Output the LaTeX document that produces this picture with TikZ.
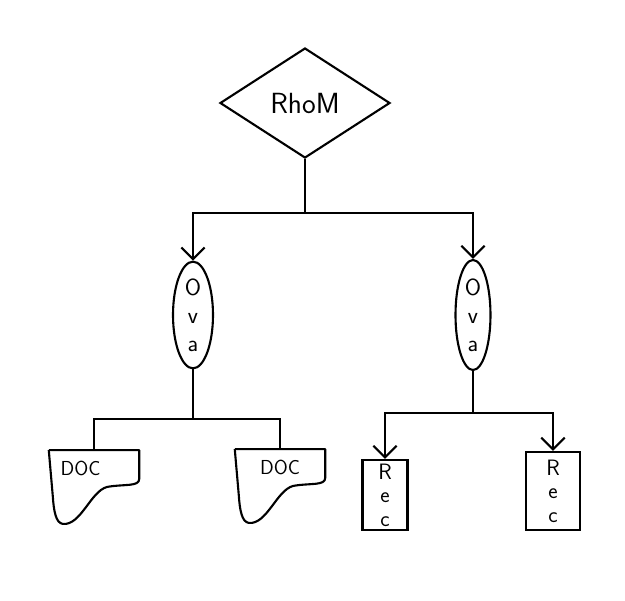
\documentclass[tikz,border=0pt]{standalone}
\usepackage{amsmath}
\usepackage{tikz}
\usetikzlibrary{shapes.geometric, arrows.meta, positioning, calc}

\begin{document}
\begin{tikzpicture}[
    % --- Global Styles ---
    base/.style={draw, line width=1.8pt, align=center, inner sep=0pt, font=\sffamily},
    rhombus/.style={base, diamond, minimum width=5.1cm, minimum height=3.3cm, font=\sffamily\Huge},
    oval/.style={base, ellipse, minimum width=1.2cm, minimum height=3.2cm, font=\sffamily\fontsize{20}{24}\selectfont},
    docbox/.style={draw=none, minimum width=2.7cm, minimum height=2.2cm},
    doctext/.style={anchor=north, yshift=-0.2cm, font=\sffamily\LARGE},
    recbox/.style={base, rectangle, minimum width=1.35cm, minimum height=2.1cm, font=\sffamily\fontsize{19}{20}\selectfont},
    outline/.style={line width=1.8pt, line join=round},
    line/.style={line width=1.8pt},
    arrow/.style={line width=1.8pt, -{Straight Barb[length=3.5mm, width=7mm]}}
]
    \useasboundingbox (0,0) rectangle (18.75,-18.03);

    % --- Nodes & Absolute Positioning ---

    \node[rhombus] (rhom) at (9.15,-3.09) {RhoM};

    \node[oval] (ovalL) at (5.79,-9.45) {O\\v\\a};
    \node[oval, minimum width=1.05cm, minimum height=3.3cm] (ovalR) at (14.19,-9.45) {O\\v\\a};

    \node[docbox, label={[doctext, xshift=-0.4cm]north:DOC}] (docL) at (2.82,-14.61) {};
    \node[docbox, label={[doctext]north:DOC}] (docR) at (8.40,-14.58) {};

    \node[recbox] (recL) at (11.55,-14.85) {R\\e\\c};
    \node[recbox, minimum width=1.6cm, minimum height=2.35cm] (recR) at (16.59,-14.73) {R\\e\\c};

    % --- Document outlines (wavy bottom) ---
    \draw[outline] (docL.north west) -- (docL.north east) -- ($(docL.south east)+(0,1.35)$)
        .. controls ($(docL.south east)+(0,1.11)$) and ($(docL.south east)+(-0.45,1.2)$) .. ($(docL.south east)+(-0.96,1.11)$)
        .. controls ($(docL.south west)+(1.26,0.99)$) and ($(docL.south west)+(0.96,-0.06)$) .. ($(docL.south west)+(0.42,0)$)
        .. controls ($(docL.south west)+(0.21,0.03)$) and ($(docL.south west)+(0.15,0.39)$) .. ($(docL.south west)+(0.12,0.84)$)
        -- (docL.north west);
    \draw[outline] (docR.north west) -- (docR.north east) -- ($(docR.south east)+(0,1.35)$)
        .. controls ($(docR.south east)+(0,1.11)$) and ($(docR.south east)+(-0.45,1.2)$) .. ($(docR.south east)+(-0.96,1.11)$)
        .. controls ($(docR.south west)+(1.26,0.99)$) and ($(docR.south west)+(0.96,-0.06)$) .. ($(docR.south west)+(0.42,0)$)
        .. controls ($(docR.south west)+(0.21,0.03)$) and ($(docR.south west)+(0.15,0.39)$) .. ($(docR.south west)+(0.12,0.84)$)
        -- (docR.north west);

    % --- Tree connectors ---
    \draw[line] (rhom.south) -- ++(0,-1.62) coordinate (busTop);
    \draw[arrow] (busTop) -| (ovalL.north);
    \draw[arrow] (busTop) -| (ovalR.north);

    \draw[line] (ovalL.south) -- ++(0,-1.5) coordinate (busLeft);
    \draw[line] (busLeft) -| (docL.north);
    \draw[line] (busLeft) -| (docR.north);

    \draw[line] (ovalR.south) -- ++(0,-1.26) coordinate (busRight);
    \draw[arrow] (busRight) -| (recL.north);
    \draw[arrow] (busRight) -| (recR.north);

\end{tikzpicture}
\end{document}
